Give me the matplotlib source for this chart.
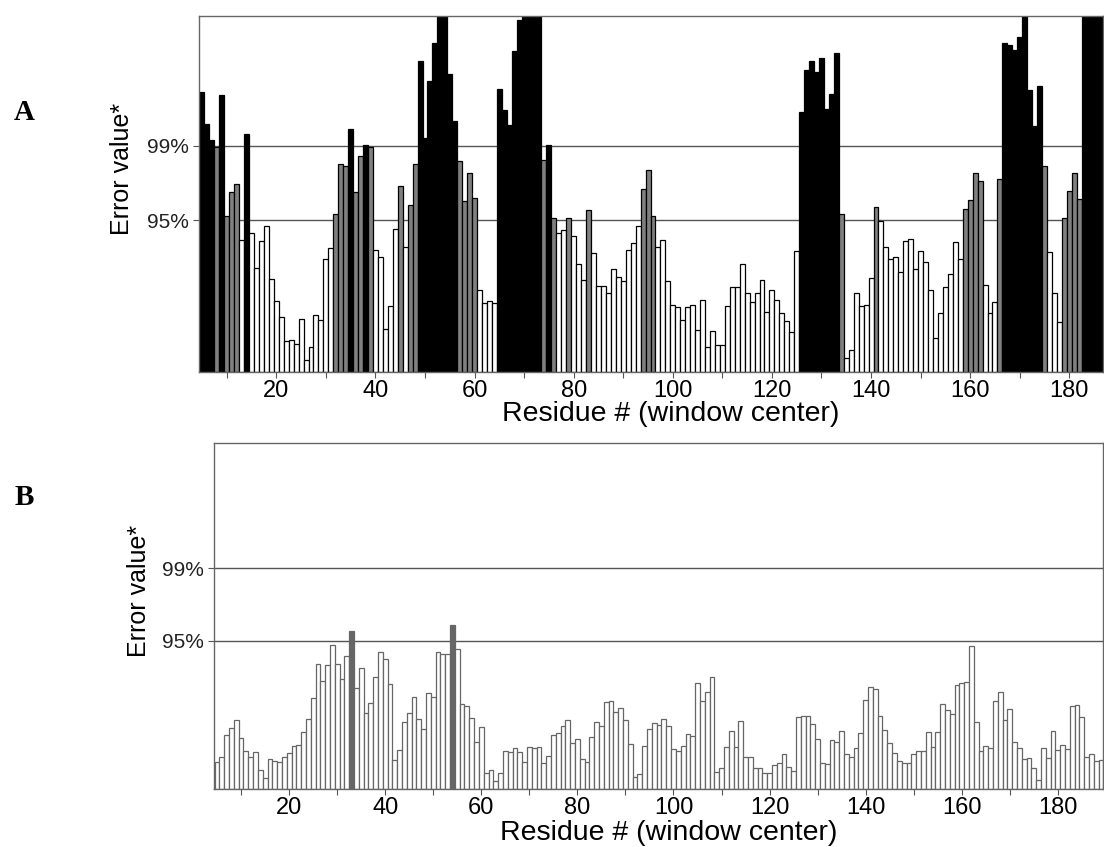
import numpy as np
import matplotlib.pyplot as plt

plt.rcParams['font.family'] = ['Liberation Sans', 'DejaVu Sans']

# panel A: residues 5..187, error value (arbitrary units, top of axis = 356)
res_a = np.arange(5, 188)
err_a = [280, 248, 232, 225, 277, 156, 180, 188, 132, 238,
         139, 104, 131, 146, 93, 71, 55, 31, 32, 28,
         53, 12, 25, 57, 52, 113, 124, 158, 208, 206,
         243, 180, 216, 227, 225, 122, 115, 43, 66, 143,
         186, 125, 167, 208, 311, 234, 291, 329, 400, 400,
         298, 251, 211, 171, 199, 174, 82, 69, 71, 69,
         283, 262, 247, 321, 352, 400, 400, 400, 400, 212,
         227, 154, 139, 142, 154, 136, 108, 92, 162, 119,
         86, 86, 79, 103, 95, 91, 122, 129, 146, 183,
         202, 156, 125, 132, 91, 67, 65, 52, 65, 67,
         42, 72, 25, 41, 27, 27, 66, 85, 85, 108,
         79, 70, 79, 92, 60, 82, 72, 59, 51, 40,
         121, 260, 302, 311, 300, 314, 263, 278, 319, 158,
         14, 22, 79, 66, 67, 94, 165, 151, 125, 113,
         115, 100, 131, 133, 103, 121, 110, 82, 34, 59,
         85, 98, 130, 113, 163, 172, 199, 191, 87, 59,
         70, 193, 329, 327, 322, 335, 400, 282, 246, 286,
         206, 120, 79, 50, 154, 181, 199, 173, 400, 400,
         400, 400, 400]
a95, a99 = 152, 226

# panel B: residues 5..189
res_b = np.arange(5, 190)
err_b = [27, 32, 54, 61, 69, 51, 38, 32, 37, 19,
         11, 30, 28, 27, 32, 36, 43, 44, 57, 70,
         91, 125, 108, 124, 144, 125, 110, 133, 158, 101,
         121, 76, 86, 112, 137, 130, 105, 29, 39, 67,
         76, 92, 70, 60, 96, 92, 137, 135, 135, 164,
         140, 85, 83, 71, 47, 62, 16, 19, 8, 16,
         38, 37, 41, 37, 27, 42, 41, 42, 26, 33,
         54, 56, 63, 69, 46, 50, 30, 27, 52, 67,
         63, 87, 88, 77, 81, 69, 45, 12, 15, 43,
         60, 66, 64, 70, 63, 40, 38, 43, 55, 53,
         106, 88, 97, 112, 17, 21, 42, 58, 42, 68,
         32, 32, 21, 21, 16, 16, 24, 26, 35, 22,
         18, 72, 73, 73, 65, 50, 26, 25, 49, 47,
         58, 35, 32, 41, 56, 89, 102, 100, 73, 59,
         46, 36, 28, 26, 26, 35, 38, 38, 57, 42,
         57, 85, 79, 75, 104, 106, 107, 143, 67, 38,
         43, 41, 88, 97, 69, 80, 47, 41, 30, 31,
         21, 9, 41, 31, 58, 39, 44, 40, 83, 84,
         72, 32, 35, 28, 29]
b95, b99 = 148.5, 220.7

W, H = 1104, 847
fig = plt.figure(figsize=(W / 100, H / 100), dpi=100)


def px_axes(left, top, right, bottom):
    return fig.add_axes([left / W, 1 - bottom / H, (right - left) / W, (bottom - top) / H])


def panel(ax, res, vals, t95, t99, ytop, xlim, cols, edge):
    vals = np.array(vals)
    colors = np.where(vals >= t99, cols[2], np.where(vals >= t95, cols[1], cols[0]))
    ax.bar(res, vals, width=1.0, color=colors, edgecolor=edge, linewidth=0.9, zorder=2)
    for t in (t95, t99):
        ax.axhline(t, color='#555555', lw=1.0, zorder=1)
    ax.set_xlim(*xlim)
    ax.set_ylim(0, ytop)
    ticks = list(range(10, 190, 10))
    ax.set_xticks(ticks)
    ax.set_xticklabels([str(t) if t % 20 == 0 else '' for t in ticks], fontsize=17)
    ax.set_yticks([t95, t99])
    ax.set_yticklabels(['95%', '99%'], fontsize=15, color='#222222')
    ax.tick_params(direction='out', length=4, width=0.8, color='#555555', pad=3)
    ax.tick_params(axis='x', pad=2)
    for s in ax.spines.values():
        s.set_color('#666666')
        s.set_linewidth(1.0)
    ax.set_xlabel('Residue # (window center)', fontsize=20.5)


axA = px_axes(199, 16, 1103, 372)
panel(axA, res_a, err_a, a95, a99, 356, (4.4, 186.8),
      ('white', '#808080', 'black'), 'black')
axA.xaxis.set_label_coords((671 - 199) / 904, -0.081)

axB = px_axes(214, 443, 1103, 789)
panel(axB, res_b, err_b, b95, b99, 789 - 443, (4.36, 189.4),
      ('white', '#666666', 'black'), '#666666')
axB.xaxis.set_label_coords((669 - 214) / 889, -0.09)

fig.text(122 / W, 1 - 169 / H, 'Error value*', rotation=90, fontsize=18,
         ha='center', va='center')
fig.text(139 / W, 1 - 591 / H, 'Error value*', rotation=90, fontsize=18,
         ha='center', va='center')

fig.text(24 / W, 1 - 112 / H, 'A', family='Liberation Serif', weight='bold',
         fontsize=21, ha='center', va='center')
fig.text(24 / W, 1 - 497 / H, 'B', family='Liberation Serif', weight='bold',
         fontsize=21, ha='center', va='center')

fig.savefig('out.png', dpi=100)
